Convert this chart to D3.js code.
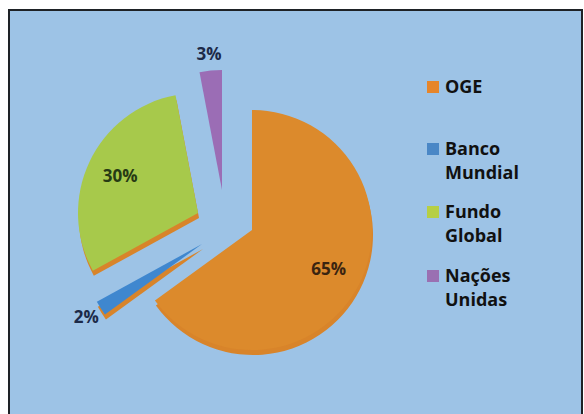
<!DOCTYPE html>
<html>
<head>
<meta charset="utf-8">
<script src="https://cdn.jsdelivr.net/npm/d3@7"></script>
<style>
  body { margin: 0; background: #fff; }
  svg { display: block; font-family: "Open Sans", sans-serif; }
</style>
</head>
<body>
<div id="chart"></div>
<script>
// data
var categories = ["OGE", "Banco Mundial", "Fundo Global", "Nações Unidas"];
var values = [65, 2, 30, 3];
var legendLines = [["OGE"], ["Banco", "Mundial"], ["Fundo", "Global"], ["Nações", "Unidas"]];

var svgWidth = 584;
var svgHeight = 414;

var colors = ["#dc8a2c", "#3f87cf", "#a7c94b", "#9b6db5"];
var legendColors = ["#e6852a", "#4a87c6", "#b6cf45", "#9a70b2"];
var labelColors = ["#3a2410", "#1c2a48", "#263a14", "#1c2a48"];

// how far each slice is pulled out of the pie
var explode = [[0, 0], [-50, 14], [-54, -17], [-30, -40]];

var svg = d3.select("#chart")
  .append("svg")
  .attr("width", svgWidth)
  .attr("height", svgHeight);

// background + frame
svg.append("rect")
  .attr("x", 9)
  .attr("y", 10)
  .attr("width", 573)
  .attr("height", 410)
  .attr("fill", "#9dc3e6")
  .attr("stroke", "#1e2226")
  .attr("stroke-width", 2);

var cx = 252, cy = 230, radius = 120;

var pie = d3.pie()
  .sort(null)
  .value(d => d);

var arcs = pie(values);

var arc = d3.arc()
  .innerRadius(0)
  .outerRadius(radius);

var pieGroup = svg.append("g")
  .attr("transform", `translate(${cx}, ${cy})`);

// 3d rim under each slice (not visible behind the purple one)
pieGroup.selectAll("path.rim")
  .data(arcs.filter((d, i) => i !== 3))
  .enter()
  .append("path")
  .attr("class", "rim")
  .attr("d", arc)
  .attr("fill", "#d8842a")
  .attr("transform", (d, i) => `translate(${explode[d.index][0] + 1}, ${explode[d.index][1] + 5})`);

pieGroup.selectAll("path.slice")
  .data(arcs)
  .enter()
  .append("path")
  .attr("class", "slice")
  .attr("d", arc)
  .attr("fill", (d, i) => colors[i])
  .attr("transform", (d, i) => `translate(${explode[i][0]}, ${explode[i][1]})`);

// labels: big slices inside, small ones outside
var innerLabel = d3.arc().innerRadius(86).outerRadius(86);
var outerLabel = d3.arc().innerRadius(137).outerRadius(137);

pieGroup.selectAll("text.pct")
  .data(arcs)
  .enter()
  .append("text")
  .attr("class", "pct")
  .attr("transform", function(d, i) {
    var c = (d.data < 5 ? outerLabel : innerLabel).centroid(d);
    return `translate(${c[0] + explode[i][0]}, ${c[1] + explode[i][1]})`;
  })
  .attr("text-anchor", "middle")
  .attr("dy", "0.35em")
  .attr("font-size", "17px")
  .attr("font-weight", "bold")
  .attr("fill", (d, i) => labelColors[i])
  .text(d => d.data + "%");

// legend
var legendY = [93, 155, 218, 282];

var legend = svg.append("g")
  .attr("transform", "translate(427, 0)");

var items = legend.selectAll("g")
  .data(categories)
  .enter()
  .append("g")
  .attr("transform", (d, i) => `translate(0, ${legendY[i]})`);

items.append("rect")
  .attr("x", 0)
  .attr("y", -12)
  .attr("width", 12)
  .attr("height", 12)
  .attr("fill", (d, i) => legendColors[i]);

items.append("text")
  .attr("x", 18)
  .attr("font-size", "18px")
  .attr("font-weight", "bold")
  .attr("fill", "#111")
  .selectAll("tspan")
  .data((d, i) => legendLines[i])
  .enter()
  .append("tspan")
  .attr("x", 18)
  .attr("dy", (d, j) => j === 0 ? 0 : 24)
  .text(d => d);
</script>
</body>
</html>
